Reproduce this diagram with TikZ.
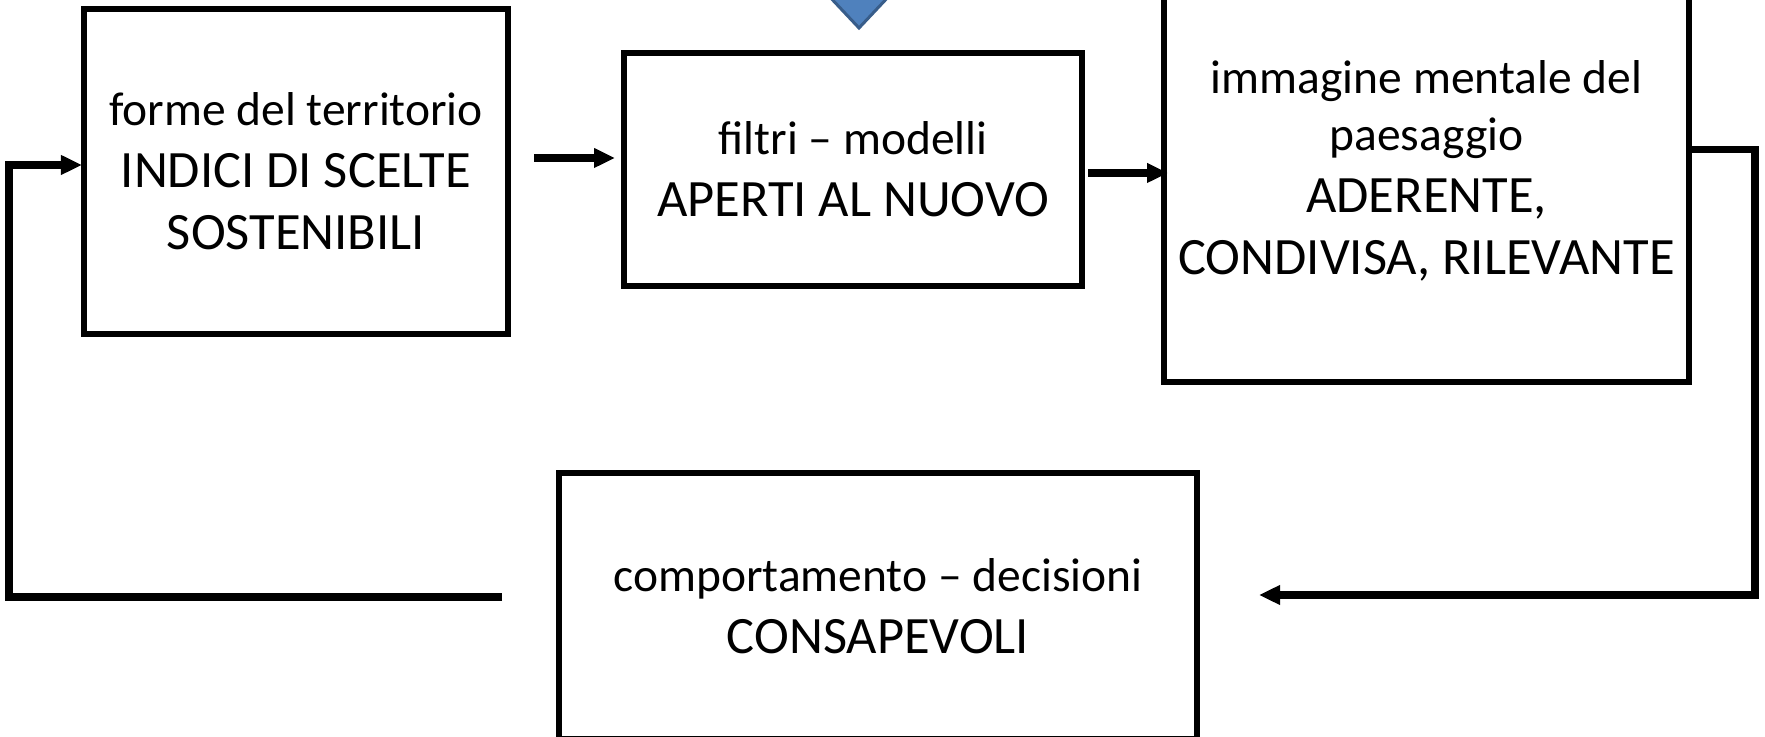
\documentclass[tikz,border=0pt]{standalone}
\usepackage{fontspec}
\setmainfont{Carlito}
\usetikzlibrary{arrows.meta,calc}
\definecolor{blueF}{RGB}{79,129,189}
\definecolor{blueD}{RGB}{56,93,138}
\newcommand{\smalltxt}{\fontsize{19pt}{24.8pt}\selectfont}
\newcommand{\bigtxt}{\fontsize{21pt}{24.8pt}\selectfont}
\tikzset{
  box/.style={draw=black, line width=2.6pt, inner sep=0pt, outer sep=0pt, align=center, text=black, font=\bigtxt},
  conn/.style={draw=black, line width=2.9pt, -{Triangle[length=8.4pt,width=7.4pt]}},
}
\begin{document}
\begin{tikzpicture}[x=0.4pt,y=-0.4pt]
\useasboundingbox (0,0) rectangle (1765,737);
\clip (0,0) rectangle (1765,737);
% blue arrow head
\filldraw[fill=blueF, draw=blueD, line width=1.2pt] (795,-40) -- (923,-40) -- (859,28) -- cycle;
% boxes
\node[box, minimum width=169.6pt, minimum height=130pt] (b1) at (296,171.5)
  {\smalltxt forme del territorio\\ INDICI DI SCELTE\\ SOSTENIBILI};
\node[box, minimum width=183.2pt, minimum height=93.2pt] (b2) at (853,169.5)
  {\smalltxt filtri -- modelli\\ APERTI AL NUOVO};
\node[box, minimum width=210pt, minimum height=168.8pt] (b3) at (1426.5,171)
  {\smalltxt immagine mentale del\\[-2pt] \smalltxt paesaggio\\ ADERENTE,\\ CONDIVISA, RILEVANTE};
\node[box, minimum width=255.2pt, minimum height=106.4pt] (b4) at (878,606)
  {\smalltxt comportamento -- decisioni\\ CONSAPEVOLI};
% connectors
\draw[conn] ([xshift=10.4pt,yshift=5.4pt]b1.east) -- ([xshift=-3.6pt,yshift=4.6pt]b2.west);
\draw[conn] ([xshift=2.4pt,yshift=-1.4pt]b2.east) -- ([xshift=1.6pt,yshift=-0.8pt]b3.west);
\coordinate (fbR) at (1755,595);
\coordinate (fbEnd) at (1259,595);
\draw[conn] ([yshift=8.6pt]b3.east) -| (fbR) -- (fbEnd);
\coordinate (fbS) at (502,597);
\coordinate (fbL) at (9,597);
\draw[conn] (fbS) -- (fbL) |- ([xshift=-0.8pt,yshift=2.6pt]b1.west);
\end{tikzpicture}
\end{document}
